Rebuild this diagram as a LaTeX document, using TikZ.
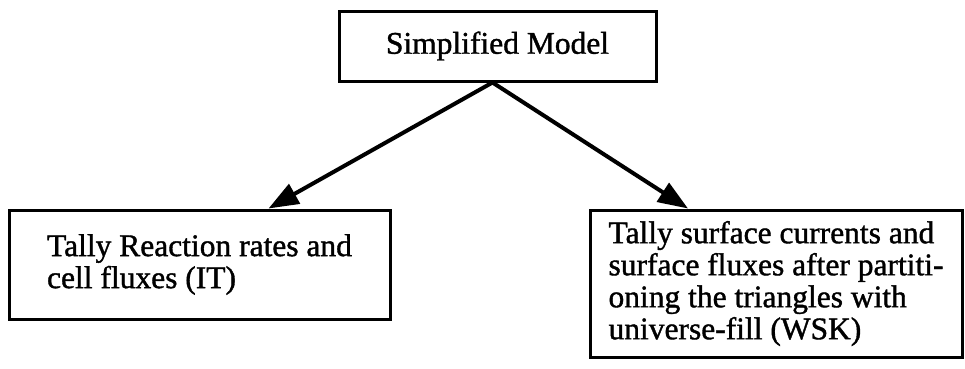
\documentclass[tikz,border=0pt]{standalone}
\usepackage{fontspec}
\setmainfont[FakeBold=1.2]{Liberation Serif}
\usetikzlibrary{arrows.meta}
\begin{document}
\begin{tikzpicture}[x=1pt,y=-1pt,
  boxst/.style={draw, line width=3pt, align=left, font=\fontsize{31.5}{32}\selectfont},
  conn/.style={line width=4pt, -{Triangle[length=30pt,width=22pt]}}]
\useasboundingbox (0,0) rectangle (965,368);
\node[boxst, minimum width=317pt, minimum height=70pt] (top) at (497.5,46) {Simplified Model};
\node[boxst, minimum width=381pt, minimum height=109pt] (lb) at (199.5,264.5) {Tally Reaction rates and\\cell fluxes (IT)};
\node[boxst, minimum width=372pt, minimum height=147pt] (rb) at (776,283.5) {Tally surface currents and\\surface fluxes after partiti-\\oning the triangles with\\universe-fill (WSK)};
\draw[conn] ([xshift=-5pt]top.south) -- ([xshift=69pt]lb.north);
\draw[conn] ([xshift=-5pt]top.south) -- ([xshift=-88pt]rb.north);
\end{tikzpicture}
\end{document}
